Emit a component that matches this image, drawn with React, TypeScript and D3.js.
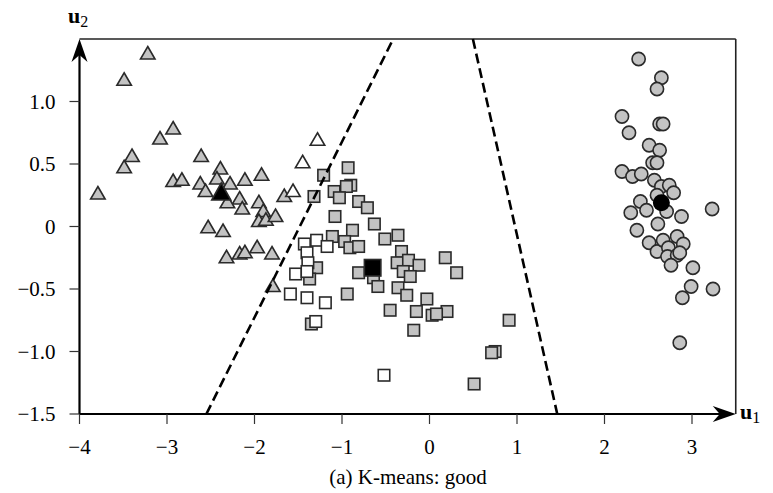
import React from 'react';
import * as d3 from 'd3';

// cluster 1 (triangles), gray = assigned correctly
const triGray: [number, number][] = [
  [-3.22, 1.39], [-3.49, 1.18], [-2.93, 0.79], [-3.08, 0.71], [-3.40, 0.57],
  [-3.49, 0.48], [-3.79, 0.27], [-2.61, 0.57], [-2.39, 0.47], [-2.93, 0.37],
  [-2.83, 0.38], [-2.62, 0.35], [-2.56, 0.29], [-2.43, 0.39], [-2.28, 0.35],
  [-2.11, 0.38], [-2.17, 0.23], [-2.31, 0.20], [-2.14, 0.15], [-1.92, 0.42],
  [-1.95, 0.20], [-1.90, 0.13], [-1.95, 0.05], [-1.87, 0.06], [-1.76, 0.09],
  [-1.66, 0.25], [-2.53, 0.00], [-2.36, -0.03], [-2.32, -0.24], [-2.17, -0.21],
  [-2.11, -0.20], [-1.97, -0.16], [-1.80, -0.21], [-1.79, -0.47],
];
const triWhite: [number, number][] = [[-1.56, 0.29], [-1.45, 0.52], [-1.28, 0.70]];
const triCenter: [number, number] = [-2.38, 0.28];

// cluster 2 (squares)
const sqGray: [number, number][] = [
  [-0.93, 0.47], [-1.21, 0.41], [-0.90, 0.33], [-0.95, 0.32], [-1.09, 0.28],
  [-1.03, 0.23], [-0.81, 0.20], [-0.71, 0.15], [-1.32, 0.24], [-1.08, 0.08],
  [-0.63, 0.02], [-0.88, -0.03], [-1.11, -0.08], [-0.97, -0.12], [-0.91, -0.17],
  [-0.81, -0.16], [-0.51, -0.10], [-0.36, -0.07], [-0.32, -0.20], [-0.37, -0.29],
  [-0.24, -0.27], [-0.12, -0.31], [-0.30, -0.36], [-0.22, -0.40], [-0.81, -0.37],
  [-0.64, -0.41], [-0.59, -0.48], [-0.36, -0.49], [-0.26, -0.55], [-0.03, -0.58],
  [0.18, -0.25], [0.31, -0.37], [-0.94, -0.54], [-1.29, -0.33], [-1.37, -0.42],
  [-0.45, -0.67], [-0.15, -0.68], [0.03, -0.71], [0.20, -0.68], [0.08, -0.70],
  [-0.18, -0.83], [0.91, -0.75], [0.75, -1.00], [0.71, -1.01], [0.51, -1.26],
  [-1.35, -0.78],
];
const sqWhite: [number, number][] = [
  [-1.43, -0.14], [-1.29, -0.11], [-1.17, -0.16], [-1.40, -0.21], [-1.39, -0.29],
  [-1.53, -0.38], [-1.40, -0.36], [-1.59, -0.54], [-1.40, -0.57], [-1.19, -0.61],
  [-1.30, -0.76], [-0.52, -1.19],
];
const sqCenter: [number, number] = [-0.65, -0.33];

// cluster 3 (circles)
const circGray: [number, number][] = [
  [2.39, 1.34], [2.65, 1.19], [2.60, 1.10], [2.20, 0.88], [2.28, 0.75],
  [2.63, 0.82], [2.67, 0.82], [2.51, 0.65], [2.63, 0.61], [2.55, 0.51],
  [2.60, 0.51], [2.20, 0.44], [2.32, 0.40], [2.42, 0.42], [2.57, 0.37],
  [2.65, 0.32], [2.74, 0.33], [2.79, 0.27], [2.60, 0.25], [2.41, 0.20],
  [2.48, 0.13], [2.30, 0.11], [2.71, 0.12], [2.88, 0.08], [3.23, 0.14],
  [2.61, 0.02], [2.37, -0.03], [2.51, -0.13], [2.60, -0.20], [2.67, -0.11],
  [2.73, -0.17], [2.83, -0.08], [2.90, -0.14], [2.72, -0.24], [2.83, -0.23],
  [2.86, -0.21], [2.76, -0.31], [3.01, -0.33], [2.99, -0.48], [3.24, -0.50],
  [2.89, -0.57], [2.86, -0.93],
];
const circCenter: [number, number] = [2.65, 0.19];

// decision boundaries (dashed)
const boundaries: [number, number][][] = [
  [[-2.55, -1.5], [-0.415, 1.5]],
  [[0.496, 1.5], [1.46, -1.5]],
];

const xTicks = [-4, -3, -2, -1, 0, 1, 2, 3];
const yTicks = [-1.5, -1.0, -0.5, 0, 0.5, 1.0];
const caption = '(a) K-means: good';

const FILL = '#c3c3c3';
const STROKE = '#2a2a2a';
const FONT = "'Liberation Serif', 'Times New Roman', Times, serif";

const fmtY = (v: number) => (v === 0 ? '0' : v.toFixed(1).replace('-', '\u2212'));
const fmtX = (v: number) => String(v).replace('-', '\u2212');

const triPath = (w: number, h: number) => `M0,${-h / 2}L${w / 2},${h / 2}L${-w / 2},${h / 2}Z`;

export default function App() {
  const x = d3.scaleLinear().domain([-4, 3.5]).range([79.5, 735.75]);
  const y = d3.scaleLinear().domain([-1.5, 1.5]).range([414, 39]);
  const line = d3.line<[number, number]>().x(d => x(d[0])).y(d => y(d[1]));

  const x0 = x(-4), x1 = x(3.5), y0 = y(-1.5), y1 = y(1.5);

  const square = (d: [number, number], fill: string, s: number, key: string) => (
    <rect key={key} x={x(d[0]) - s / 2} y={y(d[1]) - s / 2} width={s} height={s}
      fill={fill} stroke={STROKE} strokeWidth={1.6} />
  );
  const tri = (d: [number, number], fill: string, w: number, h: number, key: string) => (
    <path key={key} d={triPath(w, h)} transform={`translate(${x(d[0])},${y(d[1])})`}
      fill={fill} stroke={STROKE} strokeWidth={1.6} strokeLinejoin="miter" />
  );

  return (
    <svg width={773} height={493} style={{ position: 'absolute', left: 0, top: 0, background: '#fff', fontFamily: FONT }}>
      {/* frame top/right */}
      <line x1={x0} x2={x1} y1={y1} y2={y1} stroke="#222" strokeWidth={1.6} />
      <line x1={x1} x2={x1} y1={y1} y2={y0} stroke="#222" strokeWidth={1.6} />

      {/* markers */}
      <g>
        {circGray.map((d, i) => (
          <circle key={'c' + i} cx={x(d[0])} cy={y(d[1])} r={6.6} fill={FILL} stroke={STROKE} strokeWidth={1.6} />
        ))}
        {triGray.map((d, i) => tri(d, FILL, 14.5, 12.5, 't' + i))}
        {sqGray.map((d, i) => square(d, FILL, 11.5, 's' + i))}
        {triWhite.map((d, i) => tri(d, '#fff', 14.5, 12.5, 'tw' + i))}
        {sqWhite.map((d, i) => square(d, '#fff', 11.5, 'sw' + i))}
      </g>

      {/* boundaries */}
      {boundaries.map((b, i) => (
        <path key={'b' + i} d={line(b) || ''} fill="none" stroke="#000" strokeWidth={2.6}
          strokeDasharray="10,5" />
      ))}

      {/* centroids */}
      {tri(triCenter, '#000', 19, 17, 'tc')}
      {square(sqCenter, '#000', 16.5, 'sc')}
      <circle cx={x(circCenter[0])} cy={y(circCenter[1])} r={8.5} fill="#000" />

      {/* y axis */}
      <line x1={x0} x2={x0} y1={y0} y2={y1 + 6} stroke="#000" strokeWidth={2.2} />
      <path d={`M${x0},${y1}L${x0 + 8},${y1 + 23}L${x0},${y1 + 16}L${x0 - 8},${y1 + 23}Z`} fill="#000" />
      {yTicks.map(t => (
        <g key={'yt' + t}>
          <line x1={x0 - 10} x2={x0} y1={y(t)} y2={y(t)} stroke="#333" strokeWidth={1.2} />
          <text x={x0 - 24} y={y(t)} dy="0.35em" textAnchor="end" fontSize={21}>{fmtY(t)}</text>
        </g>
      ))}

      {/* x axis */}
      <line x1={x0} x2={x1 - 6} y1={y0} y2={y0} stroke="#000" strokeWidth={2.2} />
      <path d={`M${x1},${y0}L${x1 - 23},${y0 - 8}L${x1 - 16},${y0}L${x1 - 23},${y0 + 8}Z`} fill="#000" />
      {xTicks.map(t => (
        <g key={'xt' + t}>
          <line x1={x(t)} x2={x(t)} y1={y0} y2={y0 + 10} stroke="#333" strokeWidth={1.2} />
          <text x={x(t)} y={454} textAnchor="middle" fontSize={21}>{fmtX(t)}</text>
        </g>
      ))}

      {/* axis names */}
      <text x={68} y={23} fontSize={22} fontWeight="bold">u<tspan fontWeight="normal" fontSize={16} dy={4}>2</tspan></text>
      <text x={740} y={419} fontSize={22} fontWeight="bold">u<tspan fontWeight="normal" fontSize={16} dy={4}>1</tspan></text>

      <text x={408} y={484} textAnchor="middle" fontSize={21}>{caption}</text>
    </svg>
  );
}
